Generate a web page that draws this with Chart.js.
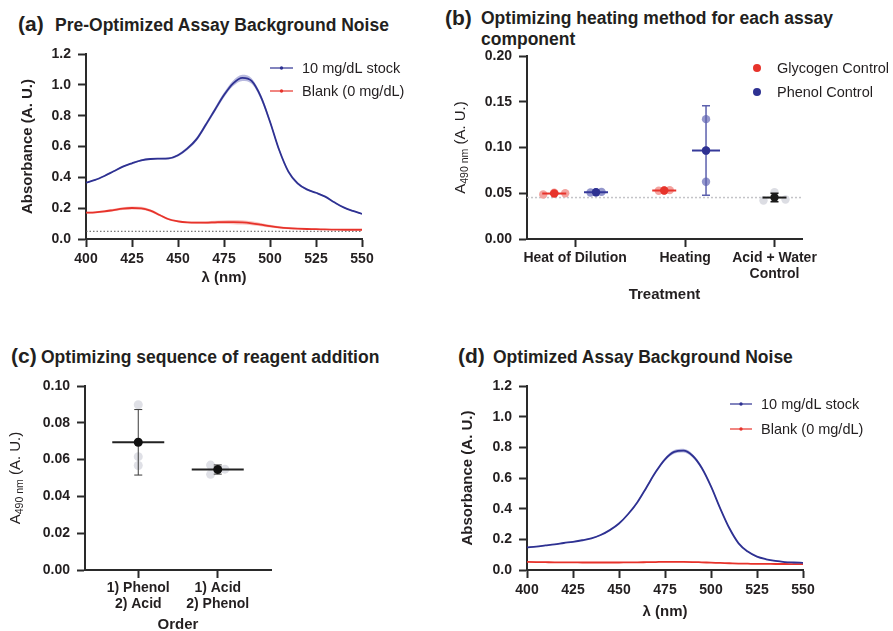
<!DOCTYPE html>
<html><head><meta charset="utf-8">
<script src="https://cdn.jsdelivr.net/npm/chart.js@4.4.1/dist/chart.umd.min.js"></script>
<style>
html,body{margin:0;padding:0;background:#fff;}
#page{position:relative;width:893px;height:631px;overflow:hidden;background:#fff;font-family:"Liberation Sans",Arial,Helvetica,sans-serif;color:#231f20;}
.lbl{position:absolute;font-weight:bold;white-space:nowrap;}
.pl{font-size:21px;line-height:24px;}
.tt{font-size:17.5px;line-height:20px;}
canvas{position:absolute;}
</style></head><body>
<div id="page">
  <span class="lbl pl" style="left:18px;top:12px">(a)</span>
  <span class="lbl tt" style="left:55px;top:14.5px">Pre-Optimized Assay Background Noise</span>
  <span class="lbl pl" style="left:445px;top:6px">(b)</span>
  <span class="lbl tt" style="left:481px;top:8px;line-height:20.5px">Optimizing heating method for each assay<br>component</span>
  <span class="lbl pl" style="left:11px;top:343.5px">(c)</span>
  <span class="lbl tt" style="left:41px;top:347px">Optimizing sequence of reagent addition</span>
  <span class="lbl pl" style="left:458px;top:344px">(d)</span>
  <span class="lbl tt" style="left:493px;top:346.5px">Optimized Assay Background Noise</span>
  <canvas id="cA" width="440" height="270" style="left:0;top:30px"></canvas>
  <canvas id="cB" width="453" height="270" style="left:440px;top:40px"></canvas>
  <canvas id="cC" width="440" height="270" style="left:0;top:370px"></canvas>
  <canvas id="cD" width="453" height="270" style="left:440px;top:370px"></canvas>
</div>
<script>
// ---------------- DATA ----------------
const wavelengths = [400,405,410,415,420,425,430,435,440,445,450,455,460,465,470,475,480,485,490,495,500,505,510,515,520,525,530,535,540,545,550];
const seriesNames = ['10 mg/dL stock', 'Blank (0 mg/dL)'];

// (a) pre-optimized spectra (mean and SD)
const stockA   = [0.365,0.383,0.409,0.439,0.469,0.491,0.510,0.519,0.521,0.523,0.543,0.586,0.646,0.739,0.837,0.934,1.010,1.045,1.025,0.923,0.761,0.577,0.437,0.361,0.322,0.300,0.275,0.238,0.205,0.182,0.163];
const stockASd = [0.004,0.004,0.004,0.004,0.005,0.005,0.005,0.005,0.005,0.006,0.008,0.010,0.012,0.014,0.015,0.016,0.018,0.020,0.018,0.016,0.014,0.012,0.010,0.008,0.006,0.005,0.004,0.004,0.004,0.004,0.004];
const blankA   = [0.171,0.173,0.179,0.188,0.197,0.201,0.199,0.184,0.156,0.128,0.115,0.108,0.106,0.106,0.108,0.110,0.110,0.108,0.102,0.093,0.083,0.075,0.070,0.067,0.065,0.064,0.062,0.061,0.060,0.060,0.060];
const blankASd = [0.006,0.006,0.007,0.008,0.009,0.010,0.010,0.009,0.008,0.007,0.006,0.006,0.007,0.008,0.010,0.012,0.014,0.014,0.013,0.011,0.009,0.007,0.006,0.005,0.004,0.004,0.003,0.003,0.003,0.003,0.003];
const noiseFloorA = 0.05;

// (d) optimized spectra (mean and SD)
const stockD   = [0.148,0.153,0.160,0.167,0.176,0.184,0.194,0.207,0.228,0.260,0.303,0.365,0.442,0.540,0.640,0.722,0.770,0.778,0.745,0.665,0.545,0.402,0.272,0.174,0.120,0.087,0.070,0.059,0.052,0.049,0.047];
const stockDSd = [0.003,0.003,0.003,0.003,0.003,0.003,0.003,0.003,0.004,0.004,0.005,0.006,0.007,0.008,0.009,0.010,0.012,0.012,0.012,0.011,0.010,0.009,0.008,0.006,0.004,0.003,0.003,0.003,0.003,0.003,0.003];
const blankD   = [0.053,0.052,0.051,0.050,0.050,0.050,0.049,0.049,0.049,0.049,0.049,0.050,0.050,0.051,0.052,0.053,0.053,0.053,0.052,0.050,0.048,0.046,0.044,0.042,0.041,0.040,0.040,0.039,0.039,0.038,0.038];
const blankDSd = [0.002,0.002,0.002,0.002,0.002,0.002,0.002,0.002,0.002,0.002,0.002,0.002,0.002,0.002,0.002,0.002,0.002,0.002,0.002,0.002,0.002,0.002,0.002,0.002,0.002,0.002,0.002,0.002,0.002,0.002,0.002];

// (b) heating method
const treatments = ['Heat of Dilution', 'Heating', ['Acid + Water', 'Control']];
const controlNames = ['Glycogen Control', 'Phenol Control'];
const glycogenReps = [[0.0486, 0.0505, 0.0500], [0.0527, 0.0530, 0.0534]];
const glycogenMean = [0.0497, 0.0530];
const glycogenErr  = [0.0008, 0.0004];
const phenolReps   = [[0.0508, 0.0511, 0.0515], [0.1310, 0.0965, 0.0626]];
const phenolMean   = [0.0511, 0.0967];
const phenolErr    = [0.0004, 0.0489];
const acidWaterReps = [0.0421, 0.0511, 0.0432];
const acidWaterMean = 0.0453;
const acidWaterErr  = 0.0047;
const baselineB = 0.0453;

// (c) order of reagent addition
const orders = [['1) Phenol', '2) Acid'], ['1) Acid', '2) Phenol']];
const orderReps = [[0.0898, 0.0616, 0.0568], [0.0570, 0.0520, 0.0548]];
const orderMean = [0.0694, 0.0546];
const orderErr  = [0.0178, 0.0025];

// ---------------- STYLE / HELPERS ----------------
const FONT = '"Liberation Sans", Arial, Helvetica, sans-serif';
Chart.defaults.font.family = FONT;
Chart.defaults.color = '#231f20';
const AX = '#2a2a2a';
const BLUE = '#2e3192', RED = '#e7332b';

const legendPlugin = {
  id: 'customLegend',
  afterDraw(chart, args, opts) {
    if (!opts || !opts.items) return;
    const ctx = chart.ctx;
    ctx.save();
    ctx.font = '14.5px ' + FONT;
    ctx.textBaseline = 'middle'; ctx.textAlign = 'left';
    for (const it of opts.items) {
      if (it.type === 'line') {
        ctx.strokeStyle = it.color; ctx.lineWidth = 1.2;
        ctx.beginPath(); ctx.moveTo(it.x0, it.y); ctx.lineTo(it.x1, it.y); ctx.stroke();
        ctx.fillStyle = it.color;
        ctx.beginPath(); ctx.arc((it.x0 + it.x1) / 2, it.y, 1.7, 0, Math.PI * 2); ctx.fill();
      } else {
        ctx.fillStyle = it.color;
        ctx.beginPath(); ctx.arc(it.x0, it.y, 4, 0, Math.PI * 2); ctx.fill();
      }
      ctx.fillStyle = '#231f20';
      ctx.fillText(it.text, it.tx, it.y + 1);
    }
    ctx.restore();
  }
};

const subTitlePlugin = {
  id: 'subTitle',
  afterDraw(chart, args, opts) {
    if (!opts || !opts.main) return;
    const ctx = chart.ctx, ca = chart.chartArea;
    ctx.save();
    ctx.translate(opts.x, (ca.top + ca.bottom) / 2);
    ctx.rotate(-Math.PI / 2);
    const big = '15px ' + FONT, small = '10.5px ' + FONT;
    ctx.font = big;
    const wA = ctx.measureText(opts.main).width, wR = ctx.measureText(opts.rest).width;
    ctx.font = small;
    const wS = ctx.measureText(opts.sub).width;
    let x = -(wA + wS + wR) / 2;
    ctx.fillStyle = '#231f20'; ctx.textBaseline = 'alphabetic'; ctx.textAlign = 'left';
    const base = 5;
    ctx.font = big; ctx.fillText(opts.main, x, base); x += wA;
    ctx.font = small; ctx.fillText(opts.sub, x, base + 3); x += wS;
    ctx.font = big; ctx.fillText(opts.rest, x, base);
    ctx.restore();
  }
};

const errorBarPlugin = {
  id: 'errorBars',
  beforeDatasetDraw(chart, args) {
    const ds = chart.data.datasets[args.index];
    if (!ds.errors) return;
    const ctx = chart.ctx, ys = chart.scales.y;
    ctx.save();
    args.meta.data.forEach((pt, i) => {
      const m = ds.data[i].y, e = ds.errors[i];
      const x = pt.x, y = pt.y;
      const yt = ys.getPixelForValue(m + e), yb = ys.getPixelForValue(m - e);
      ctx.strokeStyle = ds.errColor; ctx.lineWidth = ds.errWidth;
      ctx.beginPath();
      ctx.moveTo(x, yt); ctx.lineTo(x, yb);
      ctx.moveTo(x - 4, yt); ctx.lineTo(x + 4, yt);
      ctx.moveTo(x - 4, yb); ctx.lineTo(x + 4, yb);
      ctx.stroke();
      const h = ds.meanHalf[i];
      ctx.strokeStyle = ds.meanLineColor; ctx.lineWidth = 2;
      ctx.beginPath(); ctx.moveTo(x - h, y); ctx.lineTo(x + h, y); ctx.stroke();
    });
    ctx.restore();
  }
};

function yAxis(o) {
  return {
    type: 'linear', min: o.min, max: o.max,
    ticks: { stepSize: o.step, callback: v => Number(v).toFixed(o.dec), font: { size: 14, weight: 'bold' }, color: '#231f20', padding: o.tpad || 6 },
    grid: { drawOnChartArea: false, drawTicks: true, tickLength: 8, tickWidth: 2, tickColor: AX, color: AX },
    border: { display: true, color: AX, width: 2 },
    title: o.title ? { display: true, text: o.title, font: { size: 15, weight: 'bold' }, color: '#231f20', padding: { top: o.titlePad, bottom: 0 } } : { display: false },
    afterFit(s) { s.width = o.width; }
  };
}
function xAxis(o) {
  const a = {
    type: 'linear', min: o.min, max: o.max,
    ticks: { stepSize: o.step, font: { size: 14, weight: 'bold', lineHeight: 1.15 }, color: '#231f20', padding: o.tpad, autoSkip: false, maxRotation: 0 },
    grid: { drawOnChartArea: false, drawTicks: true, tickLength: 8, tickWidth: 2, tickColor: AX, color: AX },
    border: { display: true, color: AX, width: 2 },
    title: { display: true, text: o.title, font: { size: 15, weight: 'bold' }, color: '#231f20', padding: { top: 0, bottom: o.titlePad } },
    afterFit(s) { s.height = o.height; }
  };
  if (o.tickPos) {
    a.afterBuildTicks = s => { s.ticks = o.tickPos.map(v => ({ value: v })); };
    a.ticks.callback = (v, i) => o.tickLabels[i];
  }
  return a;
}

function makeSpectrum(id, stock, stockSd, blank, blankSd, cfg) {
  const pts = arr => wavelengths.map((w, i) => ({ x: w, y: arr[i] }));
  const band = (arr, sd, s) => wavelengths.map((w, i) => ({ x: w, y: arr[i] + s * sd[i] }));
  const common = { pointRadius: 0, cubicInterpolationMode: 'monotone' };
  const datasets = [
    Object.assign({ data: band(stock, stockSd, -1), borderWidth: 0, fill: false }, common),
    Object.assign({ data: band(stock, stockSd, 1), borderWidth: 0, fill: '-1', backgroundColor: 'rgba(70,74,170,0.38)' }, common),
    Object.assign({ data: band(blank, blankSd, -1), borderWidth: 0, fill: false }, common),
    Object.assign({ data: band(blank, blankSd, 1), borderWidth: 0, fill: '-1', backgroundColor: 'rgba(235,70,60,0.32)' }, common),
    Object.assign({ data: pts(stock), borderColor: BLUE, borderWidth: 1.8, fill: false, order: -1 }, common),
    Object.assign({ data: pts(blank), borderColor: RED, borderWidth: 1.8, fill: false, order: -1 }, common)
  ];
  if (cfg.refLine != null) {
    datasets.push({ data: [{ x: wavelengths[0], y: cfg.refLine }, { x: wavelengths[wavelengths.length - 1], y: cfg.refLine }],
      borderColor: '#555', borderWidth: 1, borderDash: [1.5, 2], pointRadius: 0, fill: false, order: 5 });
  }
  new Chart(document.getElementById(id), {
    type: 'line',
    data: { datasets },
    options: {
      responsive: false, animation: false, devicePixelRatio: 1,
      layout: { padding: cfg.pad },
      plugins: {
        legend: { display: false }, tooltip: { enabled: false },
        customLegend: { items: [
          { type: 'line', color: BLUE, text: seriesNames[0], x0: cfg.lg.x0, x1: cfg.lg.x1, y: cfg.lg.y0, tx: cfg.lg.tx },
          { type: 'line', color: RED, text: seriesNames[1], x0: cfg.lg.x0, x1: cfg.lg.x1, y: cfg.lg.y1, tx: cfg.lg.tx }
        ] }
      },
      scales: {
        x: xAxis({ min: 400, max: 550, step: 25, tpad: 4, title: 'λ (nm)', titlePad: cfg.xTitlePad, height: cfg.xHeight }),
        y: yAxis({ min: 0, max: 1.2, step: 0.2, dec: 1, width: cfg.yWidth, title: 'Absorbance (A. U.)', titlePad: cfg.yTitlePad, tpad: 7 })
      }
    },
    plugins: [legendPlugin]
  });
}

// (a)
makeSpectrum('cA', stockA, stockASd, blankA, blankASd, {
  pad: { left: 0, top: 24, right: 78, bottom: 0 }, yWidth: 86, xHeight: 61, yTitlePad: 18.5, xTitlePad: 13,
  lg: { x0: 270, x1: 293, y0: 38, y1: 61, tx: 302 }, refLine: noiseFloorA
});
// (d)
makeSpectrum('cD', stockD, stockDSd, blankD, blankDSd, {
  pad: { left: 0, top: 16, right: 90, bottom: 0 }, yWidth: 87, xHeight: 70, yTitlePad: 19, xTitlePad: 19,
  lg: { x0: 290, x1: 312, y0: 34, y1: 59, tx: 321 }, refLine: null
});

// (b)
(function () {
  const groupPos = [1.75, 5.75, 9.0];
  const side = 0.76;
  const jitG = [[-0.4, 0, 0.4], [-0.2, 0, 0.2]];
  const jitP = [[-0.2, 0, 0.2], [0, 0, 0]];
  const jitC = [-0.4, 0, 0.4];
  const gx = g => groupPos[g] - side, px = g => groupPos[g] + side;
  const glyRepPts = [], phRepPts = [];
  glycogenReps.forEach((r, g) => r.forEach((v, j) => glyRepPts.push({ x: gx(g) + jitG[g][j], y: v })));
  phenolReps.forEach((r, g) => r.forEach((v, j) => phRepPts.push({ x: px(g) + jitP[g][j], y: v })));
  const ctlRepPts = acidWaterReps.map((v, j) => ({ x: groupPos[2] + jitC[j], y: v }));
  const datasets = [
    { data: glycogenMean.map((m, g) => ({ x: gx(g), y: m })), errors: glycogenErr, errColor: '#e7332b', errWidth: 1.5, meanLineColor: '#e7332b', meanHalf: [12, 12],
      pointRadius: 4.2, pointBackgroundColor: RED, pointBorderWidth: 0 },
    { data: phenolMean.map((m, g) => ({ x: px(g), y: m })), errors: phenolErr, errColor: '#5c60ad', errWidth: 1.5, meanLineColor: '#363a9a', meanHalf: [12, 14],
      pointRadius: 4.2, pointBackgroundColor: BLUE, pointBorderWidth: 0 },
    { data: [{ x: groupPos[2], y: acidWaterMean }], errors: [acidWaterErr], errColor: '#1a1a1a', errWidth: 1.5, meanLineColor: '#1a1a1a', meanHalf: [12],
      pointRadius: 4.2, pointBackgroundColor: '#1a1a1a', pointBorderWidth: 0 },
    { data: glyRepPts, pointRadius: 4.2, pointBackgroundColor: '#f3a39f', pointBorderWidth: 0 },
    { data: phRepPts, pointRadius: 4.2, pointBackgroundColor: '#9396cc', pointBorderWidth: 0 },
    { data: ctlRepPts, pointRadius: 4.2, pointBackgroundColor: '#dcdde3', pointBorderWidth: 0 },
    { data: [{ x: 0, y: baselineB }, { x: 10, y: baselineB }], showLine: true, borderColor: '#c4c4c8', borderWidth: 1.5, borderDash: [2, 2], pointRadius: 0 }
  ];
  new Chart(document.getElementById('cB'), {
    type: 'scatter',
    data: { datasets },
    options: {
      responsive: false, animation: false, devicePixelRatio: 1,
      layout: { padding: { left: 0, top: 16, right: 91, bottom: 0 } },
      plugins: {
        legend: { display: false }, tooltip: { enabled: false },
        customLegend: { items: [
          { type: 'dot', color: RED, text: controlNames[0], x0: 317, y: 28, tx: 337 },
          { type: 'dot', color: BLUE, text: controlNames[1], x0: 317, y: 52, tx: 337 }
        ] },
        subTitle: { x: 20, main: 'A', sub: '490 nm', rest: ' (A. U.)' }
      },
      scales: {
        x: xAxis({ min: 0, max: 10, tpad: 3, title: 'Treatment', titlePad: 6, height: 71, tickPos: groupPos, tickLabels: treatments }),
        y: yAxis({ min: 0, max: 0.2, step: 0.05, dec: 2, width: 87, tpad: 7 })
      }
    },
    plugins: [legendPlugin, subTitlePlugin, errorBarPlugin]
  });
})();

// (c)
(function () {
  const catPos = [0, 1];
  const jit = [[0, 0, 0], [-0.09, -0.09, 0.09]];
  const repPts = [];
  orderReps.forEach((r, g) => r.forEach((v, j) => repPts.push({ x: catPos[g] + jit[g][j], y: v })));
  const datasets = [
    { data: orderMean.map((m, g) => ({ x: catPos[g], y: m })), errors: orderErr, errColor: '#3a3a3a', errWidth: 1, meanLineColor: '#222', meanHalf: [26, 26],
      pointRadius: 4.5, pointBackgroundColor: '#111', pointBorderWidth: 0 },
    { data: repPts, pointRadius: 4.5, pointBackgroundColor: '#dfe0e6', pointBorderWidth: 0 }
  ];
  new Chart(document.getElementById('cC'), {
    type: 'scatter',
    data: { datasets },
    options: {
      responsive: false, animation: false, devicePixelRatio: 1,
      layout: { padding: { left: 0, top: 16, right: 169, bottom: 0 } },
      plugins: {
        legend: { display: false }, tooltip: { enabled: false },
        subTitle: { x: 15, main: 'A', sub: '490 nm', rest: ' (A. U.)' }
      },
      scales: {
        x: xAxis({ min: -0.67, max: 1.67, tpad: 2, title: 'Order', titlePad: 6, height: 70, tickPos: catPos, tickLabels: orders }),
        y: yAxis({ min: 0, max: 0.10, step: 0.02, dec: 2, width: 85, tpad: 7 })
      }
    },
    plugins: [subTitlePlugin, errorBarPlugin]
  });
})();
</script>
</body></html>
